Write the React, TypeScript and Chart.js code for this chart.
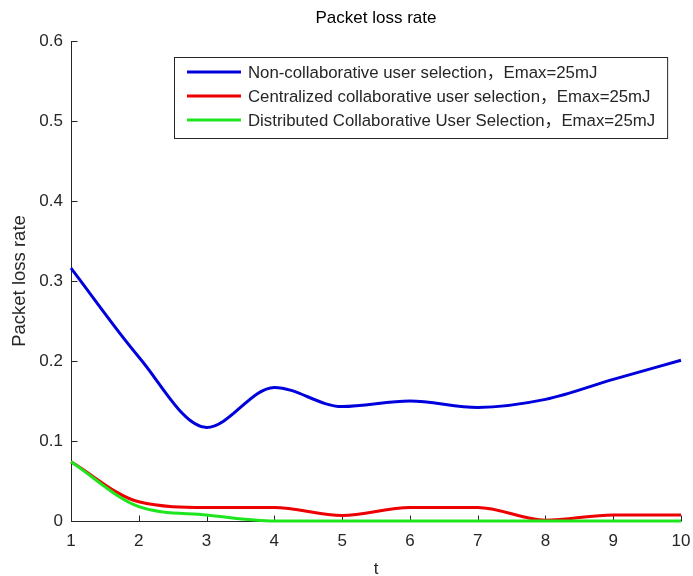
import React, { useEffect, useRef } from "react";
import { Chart, registerables } from "chart.js";

Chart.register(...registerables);

// ---- data ----
const tValues = [1, 2, 3, 4, 5, 6, 7, 8, 9, 10];
const nonCollaborative = [0.316, 0.205, 0.117, 0.167, 0.143, 0.15, 0.142, 0.152, 0.177, 0.201];
const centralizedCollab = [0.074, 0.024, 0.017, 0.017, 0.007, 0.017, 0.017, 0.001, 0.0075, 0.0075];
const distributedCollab = [0.074, 0.018, 0.0075, 0, 0, 0, 0, 0, 0, 0];
const seriesLabels = [
  "Non-collaborative user selection，Emax=25mJ",
  "Centralized collaborative user selection，Emax=25mJ",
  "Distributed Collaborative User Selection，Emax=25mJ",
];
const xTickValues = [1, 2, 3, 4, 5, 6, 7, 8, 9, 10];
const yTickValues = [0, 0.1, 0.2, 0.3, 0.4, 0.5, 0.6];
const chartTitle = "Packet loss rate";
const xAxisTitle = "t";
const yAxisTitle = "Packet loss rate";

const FONT = "'Liberation Sans', Arial, 'Noto Sans CJK SC', sans-serif";
const AXIS_COLOR = "#262626";
const COLORS = ["#0000dc", "#ec0000", "#1ee61e"];

const axesPlugin = {
  id: "matlabAxes",
  beforeDatasetsDraw(chart: any) {
    const { ctx, chartArea, scales } = chart;
    const { left, right, top, bottom } = chartArea;
    const x = scales.x;
    const y = scales.y;
    ctx.save();
    ctx.strokeStyle = AXIS_COLOR;
    ctx.lineWidth = 1;
    ctx.beginPath();
    const lx = Math.round(left) + 0.5;
    const by = Math.round(bottom) + 0.5;
    ctx.moveTo(lx, top);
    ctx.lineTo(lx, by);
    ctx.lineTo(right, by);
    yTickValues.forEach((v) => {
      const py = Math.round(y.getPixelForValue(v)) + 0.5;
      ctx.moveTo(lx, py);
      ctx.lineTo(lx + 6, py);
    });
    xTickValues.forEach((v) => {
      const px = Math.round(x.getPixelForValue(v)) + 0.5;
      ctx.moveTo(px, by);
      ctx.lineTo(px, by - 6);
    });
    ctx.stroke();
    // title centred over the axes, as in MATLAB
    ctx.fillStyle = "#000000";
    ctx.font = `17px ${FONT}`;
    ctx.textAlign = "center";
    ctx.textBaseline = "middle";
    ctx.fillText(chartTitle, (left + right) / 2, 18);
    ctx.restore();
  },
};

const legendPlugin = {
  id: "boxLegend",
  afterDraw(chart: any) {
    const { ctx } = chart;
    const ds = chart.data.datasets;
    ctx.save();
    ctx.font = `16.8px ${FONT}`;
    const boxL = 174;
    const boxT = 57;
    const lineX0 = 187;
    const lineX1 = 241;
    const textX = 248;
    const firstRow = 72;
    const rowH = 24;
    let maxW = 0;
    ds.forEach((d: any) => {
      maxW = Math.max(maxW, ctx.measureText(d.label).width);
    });
    const boxR = textX + maxW + 12;
    const boxB = firstRow + rowH * (ds.length - 1) + 18;
    ctx.fillStyle = "#ffffff";
    ctx.fillRect(boxL, boxT, boxR - boxL, boxB - boxT);
    ctx.strokeStyle = AXIS_COLOR;
    ctx.lineWidth = 1;
    ctx.strokeRect(boxL + 0.5, boxT + 0.5, boxR - boxL, boxB - boxT);
    ds.forEach((d: any, i: number) => {
      const yy = firstRow + i * rowH;
      ctx.strokeStyle = d.borderColor;
      ctx.lineWidth = 3;
      ctx.beginPath();
      ctx.moveTo(lineX0, yy);
      ctx.lineTo(lineX1, yy);
      ctx.stroke();
      ctx.fillStyle = AXIS_COLOR;
      ctx.textBaseline = "middle";
      ctx.textAlign = "left";
      ctx.fillText(d.label, textX, yy + 1);
    });
    ctx.restore();
  },
};

export default function App() {
  const canvasRef = useRef<HTMLCanvasElement | null>(null);

  useEffect(() => {
    if (!canvasRef.current) return;
    const series = [nonCollaborative, centralizedCollab, distributedCollab];
    const chart = new Chart(canvasRef.current, {
      type: "line",
      data: {
        datasets: series.map((vals, i) => ({
          label: seriesLabels[i],
          data: tValues.map((t, j) => ({ x: t, y: vals[j] })),
          borderColor: COLORS[i],
          backgroundColor: COLORS[i],
          borderWidth: 3,
          pointRadius: 0,
          fill: false,
          cubicInterpolationMode: "monotone" as const,
          clip: false as any,
          order: series.length - i,
        })),
      },
      options: {
        responsive: false,
        animation: false,
        layout: { padding: { top: 41, right: 12, bottom: 0, left: 0 } },
        plugins: {
          legend: { display: false },
          tooltip: { enabled: false },
          title: { display: false },
        },
        scales: {
          x: {
            type: "linear",
            min: 1,
            max: 10,
            afterFit: (s: any) => {
              s.height = 55;
              s.paddingRight = 0;
              s.paddingLeft = 0;
            },
            afterBuildTicks: (s: any) => {
              s.ticks = xTickValues.map((v) => ({ value: v }));
            },
            grid: { display: false, drawTicks: false },
            border: { display: false },
            ticks: {
              color: AXIS_COLOR,
              font: { family: FONT, size: 17 },
              padding: 10,
              maxRotation: 0,
              autoSkip: false,
            },
            title: {
              display: true,
              text: xAxisTitle,
              color: AXIS_COLOR,
              font: { family: FONT, size: 17 },
              padding: { top: 0, bottom: -4 },
            },
          },
          y: {
            type: "linear",
            min: 0,
            max: 0.6,
            afterFit: (s: any) => {
              s.width = 71;
              s.paddingTop = 0;
              s.paddingBottom = 0;
            },
            afterBuildTicks: (s: any) => {
              s.ticks = yTickValues.map((v) => ({ value: v }));
            },
            grid: { display: false, drawTicks: false },
            border: { display: false },
            ticks: {
              color: AXIS_COLOR,
              font: { family: FONT, size: 17 },
              padding: 8,
              autoSkip: false,
              callback: (v: any) => (Number(v) === 0 ? "0" : Number(v).toFixed(1)),
            },
            title: {
              display: true,
              text: yAxisTitle,
              color: AXIS_COLOR,
              font: { family: FONT, size: 18.5 },
              padding: { top: 9, bottom: 0 },
            },
          },
        },
      },
      plugins: [axesPlugin, legendPlugin],
    });
    return () => chart.destroy();
  }, []);

  return (
    <div style={{ position: "fixed", left: 0, top: 0, width: 693, height: 576, background: "#fff" }}>
      <canvas ref={canvasRef} width={693} height={576} style={{ display: "block" }} />
    </div>
  );
}
